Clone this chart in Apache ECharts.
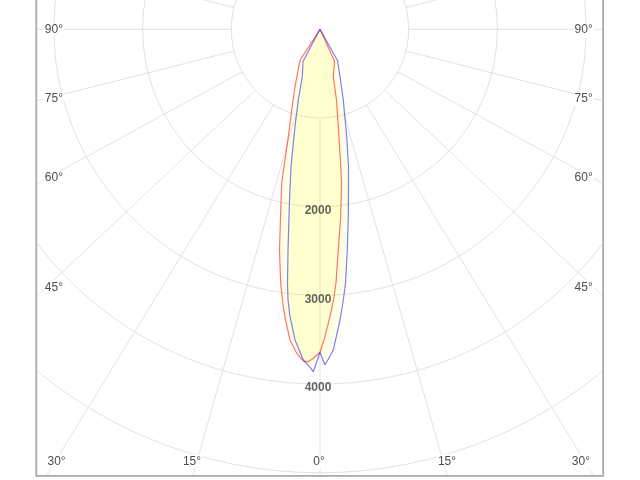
<!DOCTYPE html>
<html><head><meta charset="utf-8">
<script src="https://cdn.jsdelivr.net/npm/echarts@6/dist/echarts.min.js"></script>
<style>html,body{margin:0;padding:0;background:#fff}#c{width:640px;height:480px}</style>
</head><body><div id="c"></div>
<script>
// ---- data: [intensity (cd), angle (deg, 0 = down, + = right)] ----
const redCurve = [
  [0,-90],[405,-32.85],[456,-30.82],[706,-23.54],[964,-19.33],[1262,-16.44],[1601,-14.68],
  [1786,-13.99],[2159,-11.90],[2530,-10.40],[2898,-8.80],[3136,-7.64],[3300,-6.77],
  [3519,-5.52],[3662,-4.11],[3744,-2.88],[3750,-2.02],[3710,-1.17],[3641,0],
  [3484,0.83],[3242,1.99],[3055,2.86],[2869,3.60],[2497,4.74],[2126,6.30],[1753,7.95],
  [1567,8.61],[1117,10.64],[818,13.14],[555,15.67],[464,19.89],[393,24.58],[0,90]
];
const blueCurve = [
  [0,-90],[410,-27.83],[570,-20.48],[834,-17.06],[1134,-14.40],[1583,-11.92],[1955,-10.13],
  [2514,-8.25],[2884,-7.30],[3073,-6.74],[3258,-5.96],[3514,-4.60],[3733,-2.89],
  [3814,-1.69],[3861,-1.12],[3641,0],[3785,0.85],[3619,2.37],[3285,3.94],[3063,4.92],
  [2878,5.73],[2507,7.05],[2137,8.59],[1766,10.48],[1582,11.72],[1248,13.96],[839,18.24],
  [580,22.88],[403,29.29],[0,90]
];
const radiusLabels = [2000, 3000, 4000];
// drawn spoke directions (as they appear in the picture)
const spokeAngles = [0, 15.9, 31.5, 46.7, 61.4, 75.8, 90, 104.2, 118.6, 133.3, 148.5, 164.1, 180];
const sideTickLabels = ['90°', '75°', '60°', '45°'];
const bottomTickLabels = ['30°', '15°', '0°', '15°', '30°'];

// ---- layout ----
const CX = 320, CY = 29.3, PX_PER_CD = 0.0887, RMAX = 6000;
const FRAME = {l: 36.3, r: 603.2, b: 475.8};
const sideLabelY = [30, 99, 178, 287.5];
const bottomLabelY = 461.5;
const bottomLabelPos = [
  {x: 46.5, align: 'left'}, {x: 192, align: 'center'}, {x: 319, align: 'center'},
  {x: 447, align: 'center'}, {x: 591, align: 'right'}
];
const FONT = '"Liberation Sans", Arial, sans-serif';
const gridColor = '#e2e2e2';

const chart = echarts.init(document.getElementById('c'), null, {renderer: 'canvas'});

const series = [];
const allSpokes = [];
spokeAngles.forEach(a => { allSpokes.push(a); if (a !== 0 && a !== 180) allSpokes.push(-a); });
allSpokes.forEach(a => {
  series.push({
    type: 'line', coordinateSystem: 'polar', silent: true, symbol: 'none', z: 1,
    data: [[1000, a], [RMAX, a]],
    lineStyle: {color: gridColor, width: 1}, animation: false
  });
});
series.push({
  type: 'line', coordinateSystem: 'polar', name: 'C0-C180', data: redCurve, symbol: 'none', z: 3,
  lineStyle: {color: 'rgba(255,0,0,0.55)', width: 1.2},
  areaStyle: {color: 'rgba(255,255,0,0.14)'}, animation: false
});
series.push({
  type: 'line', coordinateSystem: 'polar', name: 'C90-C270', data: blueCurve, symbol: 'none', z: 3,
  lineStyle: {color: 'rgba(0,0,255,0.5)', width: 1.2},
  areaStyle: {color: 'rgba(255,255,0,0.14)'}, animation: false
});
series.push({
  type: 'scatter', coordinateSystem: 'polar', symbolSize: 0, z: 5, silent: true,
  data: radiusLabels.map(v => [v, 0]),
  label: {show: true, position: 'inside', offset: [-2, 4], formatter: p => String(p.value[0]),
    color: '#3c3c3c', fontWeight: 'bold', fontSize: 12, fontFamily: FONT},
  animation: false
});

const graphics = [
  {type: 'rect', z: 100, silent: true, shape: {x: 0, y: 0, width: FRAME.l, height: 480}, style: {fill: '#fff'}},
  {type: 'rect', z: 100, silent: true, shape: {x: FRAME.r, y: 0, width: 640 - FRAME.r, height: 480}, style: {fill: '#fff'}},
  {type: 'rect', z: 100, silent: true, shape: {x: 0, y: FRAME.b, width: 640, height: 480 - FRAME.b}, style: {fill: '#fff'}},
  {type: 'polyline', z: 102, silent: true,
    shape: {points: [[FRAME.l, -5], [FRAME.l, FRAME.b], [FRAME.r, FRAME.b], [FRAME.r, -5]]},
    style: {stroke: '#a9a9a9', lineWidth: 1.8, fill: null}}
];
const txt = (text, x, y, align) => ({
  type: 'text', z: 101, silent: true, x: x, y: y,
  style: {text: text, font: '12px ' + FONT, fill: '#4d4d4d', align: align, verticalAlign: 'middle',
    backgroundColor: '#fff', padding: [1, 1]}
});
sideTickLabels.forEach((t, i) => {
  graphics.push(txt(t, FRAME.l + 7.5, sideLabelY[i], 'left'));
  graphics.push(txt(t, FRAME.r - 9.5, sideLabelY[i], 'right'));
});
bottomTickLabels.forEach((t, i) => {
  graphics.push(txt(t, bottomLabelPos[i].x, bottomLabelY, bottomLabelPos[i].align));
});

chart.setOption({
  animation: false,
  backgroundColor: '#fff',
  polar: {center: [CX, CY], radius: RMAX * PX_PER_CD},
  angleAxis: {type: 'value', min: -180, max: 180, startAngle: 90, clockwise: false,
    axisLine: {show: false}, axisTick: {show: false}, axisLabel: {show: false}, splitLine: {show: false}},
  radiusAxis: {type: 'value', min: 0, max: RMAX, interval: 1000,
    axisLine: {show: false}, axisTick: {show: false}, axisLabel: {show: false},
    splitLine: {show: true, lineStyle: {color: gridColor, width: 1}}},
  series: series,
  graphic: graphics
});
</script>
</body></html>
